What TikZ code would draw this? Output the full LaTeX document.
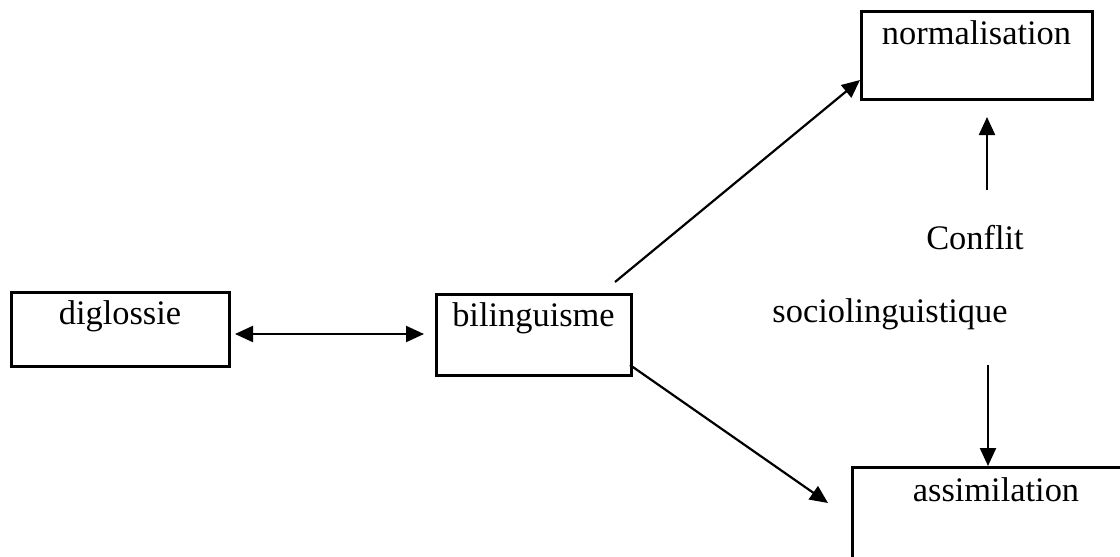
\documentclass[tikz,border=0pt]{standalone}
\usepackage{fontspec}
\setmainfont{Liberation Serif}
\usetikzlibrary{arrows.meta}
\begin{document}
\begin{tikzpicture}[x=1pt,y=-1pt,
  every node/.style={font=\fontsize{34.4pt}{40pt}\selectfont},
  box/.style={draw,line width=3pt,inner xsep=0pt,inner ysep=0pt,align=center},
  arr/.style={line width=2.2pt,-{Triangle[length=18pt,width=16pt]}},
  darr/.style={line width=2.2pt,{Triangle[length=18pt,width=16pt]}-{Triangle[length=18pt,width=16pt]}},
  lbl/.style={inner sep=0pt,anchor=base}]
\useasboundingbox (0,0) rectangle (1120,557);
% boxes
\node[box,minimum width=218pt,text height=32pt,text depth=42pt,anchor=north] (dig) at (120,291) {diglossie};
\node[box,minimum width=195pt,text height=32pt,text depth=49pt,anchor=north] (bil) at (533.5,293) {bilinguisme};
\node[box,minimum width=231pt,text height=33pt,text depth=55pt,anchor=north] (norm) at (976.5,10) {normalisation};
\node[box,minimum width=288pt,text height=34pt,text depth=80pt,anchor=north] (assim) at (996,466) {assimilation};
% labels
\node[lbl] (conf) at (975,249) {Conflit};
\node[lbl] (socio) at (890,322) {sociolinguistique};
% connector ends
\coordinate (d1) at (235,334);
\coordinate (d2) at (424,334);
\coordinate (b1) at (615,282);
\coordinate (n1) at (860,80);
\coordinate (b2) at (630,365);
\coordinate (a1) at (828,503);
\coordinate (u1) at (987,190);
\coordinate (u2) at (987,117);
\coordinate (v1) at (988,365);
% connectors
\draw[darr] (d1) -- (d2);
\draw[arr] (b1) -- (n1);
\draw[arr] (b2) -- (a1);
\draw[arr] (u1) -- (u2);
\draw[arr] (v1) -- (v1 |- assim.north);
\end{tikzpicture}
\end{document}
